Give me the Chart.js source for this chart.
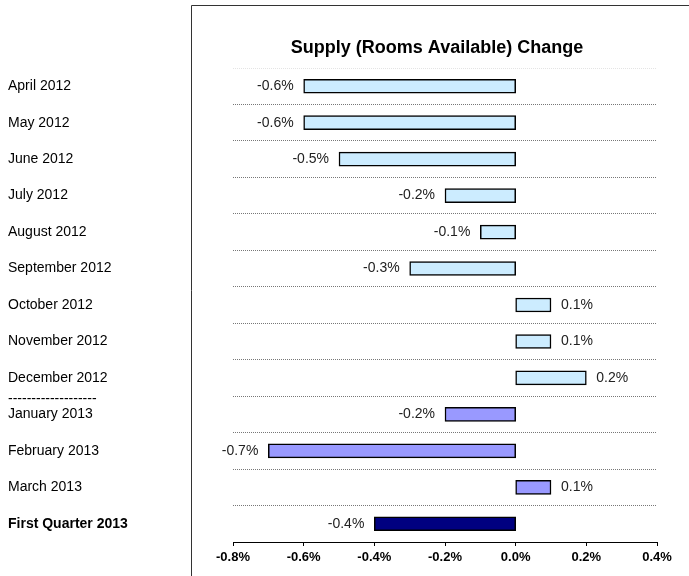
<!DOCTYPE html>
<html lang="en">
<head>
    <meta charset="UTF-8">
    <title>Supply (Rooms Available) Change</title>
    <script src="https://cdnjs.cloudflare.com/ajax/libs/Chart.js/4.4.1/chart.umd.min.js"></script>
    <style>
        body {
            margin: 0;
            background: white;
        }
        .container {
            width: 689px;
            height: 576px;
            position: relative;
        }
    </style>
</head>
<body>
    <div class="container">
        <canvas id="supplyChart"></canvas>
    </div>

    <script>
        let months = ['April 2012', 'May 2012', 'June 2012', 'July 2012', 'August 2012', 'September 2012',
                      'October 2012', 'November 2012', 'December 2012', 'January 2013', 'February 2013',
                      'March 2013', 'First Quarter 2013'];
        let supplyChange = [-0.6, -0.6, -0.5, -0.2, -0.1, -0.3, 0.1, 0.1, 0.2, -0.2, -0.7, 0.1, -0.4];
        let barColors = ['#CCECFF', '#CCECFF', '#CCECFF', '#CCECFF', '#CCECFF', '#CCECFF',
                         '#CCECFF', '#CCECFF', '#CCECFF', '#9999FF', '#9999FF', '#9999FF', '#000080'];
        let xMin = -0.8;
        let xMax = 0.4;
        let xStep = 0.2;
        let chartTitle = 'Supply (Rooms Available) Change';
        let separatorText = '-------------------';

        // frame, title, separator under December and the value labels
        let extras = {
            id: 'extras',
            beforeDraw(chart) {
                let ctx = chart.ctx;
                ctx.save();
                ctx.strokeStyle = '#333';
                ctx.lineWidth = 1;
                ctx.beginPath();
                ctx.moveTo(191.5, 576);
                ctx.lineTo(191.5, 5.5);
                ctx.lineTo(689, 5.5);
                ctx.stroke();
                ctx.restore();
            },
            afterDraw(chart) {
                let ctx = chart.ctx;
                ctx.save();
                ctx.fillStyle = '#000';
                ctx.font = 'bold 18px "Liberation Sans", Arial, sans-serif';
                ctx.textAlign = 'center';
                ctx.textBaseline = 'middle';
                ctx.fillText(chartTitle, 437, 48);

                let y = chart.scales.y;
                let sepY = (y.getPixelForTick(8) + y.getPixelForTick(9)) / 2;
                ctx.font = '14px "Liberation Sans", Arial, sans-serif';
                ctx.textAlign = 'left';
                ctx.fillText(separatorText, 8, sepY + 3);

                ctx.fillStyle = '#222';
                let meta = chart.getDatasetMeta(0);
                meta.data.forEach((bar, i) => {
                    let v = supplyChange[i];
                    let label = v.toFixed(1) + '%';
                    if (v < 0) {
                        ctx.textAlign = 'right';
                        ctx.fillText(label, bar.x - 10, bar.y);
                    } else {
                        ctx.textAlign = 'left';
                        ctx.fillText(label, bar.x + 10, bar.y);
                    }
                });
                ctx.restore();
            }
        };

        let ctx = document.getElementById('supplyChart').getContext('2d');
        new Chart(ctx, {
            type: 'bar',
            data: {
                labels: months,
                datasets: [{
                    data: supplyChange,
                    backgroundColor: barColors,
                    borderColor: '#000',
                    borderWidth: 1.5,
                    borderSkipped: false,
                    barThickness: 14
                }]
            },
            options: {
                indexAxis: 'y',
                responsive: true,
                maintainAspectRatio: false,
                animation: false,
                layout: {
                    padding: { left: 8, top: 68, right: 32, bottom: 0 }
                },
                plugins: {
                    legend: { display: false },
                    title: { display: false },
                    tooltip: { enabled: false }
                },
                scales: {
                    x: {
                        min: xMin,
                        max: xMax,
                        afterFit(scale) { scale.height = 34; },
                        ticks: {
                            stepSize: xStep,
                            color: '#000',
                            padding: 4,
                            font: { family: '"Liberation Sans", Arial, sans-serif', size: 13, weight: 'bold' },
                            callback: value => value.toFixed(1) + '%'
                        },
                        grid: {
                            drawOnChartArea: false,
                            drawTicks: true,
                            tickLength: 4,
                            tickColor: '#000',
                            color: '#000'
                        },
                        border: { display: true, color: '#000', width: 1 }
                    },
                    y: {
                        afterFit(scale) { scale.width = 225; },
                        ticks: {
                            crossAlign: 'far',
                            color: '#000',
                            font: ctx => ({
                                family: '"Liberation Sans", Arial, sans-serif',
                                size: 14,
                                weight: ctx.index === 12 ? 'bold' : 'normal'
                            })
                        },
                        grid: {
                            offset: true,
                            drawTicks: false,
                            color: ctx => ctx.index === 0 ? '#e4e4e4' : '#777',
                            lineWidth: 1
                        },
                        border: { display: false, dash: [1, 1] }
                    }
                }
            },
            plugins: [extras]
        });
    </script>
</body>
</html>
